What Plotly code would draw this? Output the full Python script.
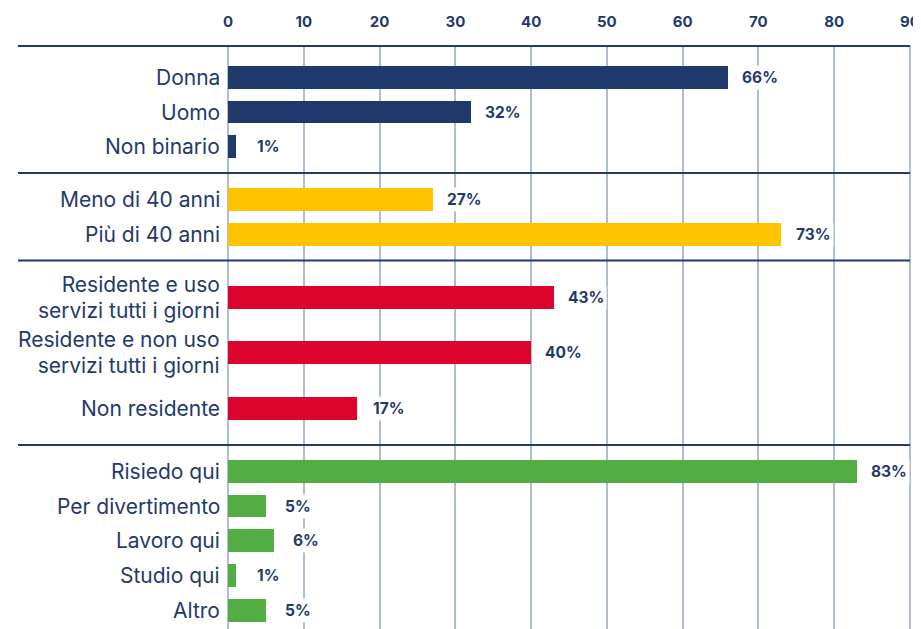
import plotly.graph_objects as go

# ---- data ----
gender_labels = ["Donna", "Uomo", "Non binario"]
gender_values = [66, 32, 1]
age_labels = ["Meno di 40 anni", "Più di 40 anni"]
age_values = [27, 73]
residence_labels = ["Residente e uso<br>servizi tutti i giorni",
                    "Residente e non uso<br>servizi tutti i giorni",
                    "Non residente"]
residence_values = [43, 40, 17]
reason_labels = ["Risiedo qui", "Per divertimento", "Lavoro qui", "Studio qui", "Altro"]
reason_values = [83, 5, 6, 1, 5]
x_tick_values = [0, 10, 20, 30, 40, 50, 60, 70, 80, 90]

# ---- styles ----
NAVY = "#1f3a6b"
GRID = "#aebcd4"
group_colors = ["#1f3a6b", "#ffc400", "#dc042c", "#52ae42"]
FONT = "Inter"
LABEL_PX = 21      # visible size of category labels
LINE_BASE = 20     # base size -> sets line spacing (1.3 * 20 = 26px)

groups = [
    (gender_labels, gender_values),
    (age_labels, age_values),
    (residence_labels, residence_values),
    (reason_labels, reason_values),
]

# page has an 8px body margin -> figure is drawn 8px smaller
W, H = 913, 621
L, R, T, B = 219, 10, 38, 0
PH = H - T - B           # plot height in px; y axis uses px units
PW = W - L - R

SLOT_SINGLE = 34.7
SLOT_DOUBLE = 55.5
PAD = 9.0
FIRST_PAD = 14.0
BAR_W = 22.7

fig = go.Figure()
annotations = []
separators = [0.0]
cursor = 0.0
for gi, ((labels, values), color) in enumerate(zip(groups, group_colors)):
    slot = SLOT_DOUBLE if any("<br>" in s for s in labels) else SLOT_SINGLE
    top_pad = FIRST_PAD if gi == 0 else PAD
    ys = [cursor + top_pad + slot / 2 + i * slot for i in range(len(labels))]
    cursor = cursor + top_pad + len(labels) * slot + PAD
    separators.append(cursor)
    fig.add_trace(go.Bar(
        x=values, y=ys, orientation="h", width=BAR_W,
        marker=dict(color=color, line=dict(width=0)),
        hoverinfo="skip", showlegend=False,
    ))
    for lab, v, y in zip(labels, values, ys):
        styled = "<br>".join(
            f'<span style="font-size:{LABEL_PX}px">{line}</span>'
            for line in lab.split("<br>"))
        annotations.append(dict(
            x=0, xref="paper", y=y, yref="y", text=styled,
            showarrow=False, xanchor="right", yanchor="middle", xshift=-5,
            align="right",
            font=dict(family=FONT, size=LINE_BASE, color=NAVY),
        ))
        annotations.append(dict(
            x=v, y=y, xref="x", yref="y", text=f"{v}%",
            showarrow=False, xanchor="center", yanchor="middle", xshift=32,
            bgcolor="white", borderpad=2,
            font=dict(family=FONT, size=15.5, color=NAVY, weight="bold"),
        ))

shapes = []
for s in separators[:-1]:
    yp = 1 - s / PH
    shapes.append(dict(
        type="line", xref="paper", yref="paper",
        x0=(10 - L) / PW, x1=(902 - L) / PW, y0=yp, y1=yp,
        line=dict(color=NAVY, width=2), layer="above",
    ))

fig.update_layout(
    width=W, height=H,
    margin=dict(l=L, r=R, t=T, b=B, pad=0),
    plot_bgcolor="white", paper_bgcolor="white",
    bargap=0,
    annotations=annotations,
    shapes=shapes,
    xaxis=dict(
        side="top", range=[-0.15, 90.15],
        tickmode="array", tickvals=x_tick_values,
        ticktext=[str(v) for v in x_tick_values],
        showgrid=True, gridcolor=GRID, gridwidth=1.6,
        zeroline=False, showline=False, ticks="",
        ticklabelstandoff=15,
        tickfont=dict(family=FONT, size=15, color=NAVY, weight="bold"),
        fixedrange=True,
    ),
    yaxis=dict(
        range=[PH, 0], autorange=False,
        showticklabels=False,
        showgrid=False, zeroline=False, showline=False, ticks="",
        fixedrange=True,
    ),
)

fig.write_html("out.html")
